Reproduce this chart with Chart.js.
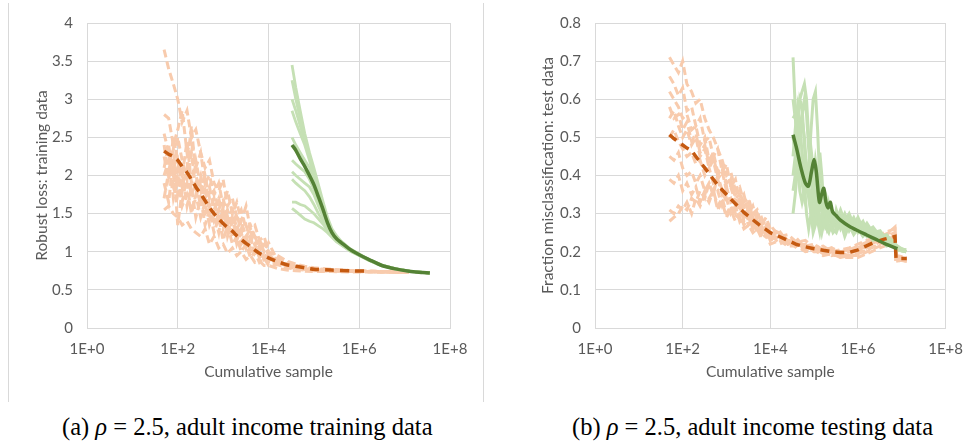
<!DOCTYPE html>
<html>
<head>
<meta charset="utf-8">
<script src="https://cdn.jsdelivr.net/npm/chart.js@4/dist/chart.umd.min.js"></script>
<style>
  html, body { margin: 0; padding: 0; background: #ffffff; }
  body { width: 975px; height: 444px; position: relative; overflow: hidden; }
  canvas { position: absolute; top: 0; }
  #cL { left: 0; }
  #cR { left: 490px; }
  .frame { position: absolute; top: 3px; width: 1px; height: 399px; background: #D9D9D9; }
  .cap { position: absolute; top: 413px; font-family: "Liberation Serif", "DejaVu Serif", serif; font-size: 24.5px; line-height: 28px; color: #000; white-space: nowrap; }
  .cap i { font-style: italic; }
</style>
</head>
<body>
<div class="frame" style="left:8px"></div>
<div class="frame" style="left:483px"></div>
<canvas id="cL" width="485" height="400"></canvas>
<canvas id="cR" width="485" height="400"></canvas>
<div class="cap" id="capA" style="left:62px">(a) <i>ρ</i> = 2.5, adult income training data</div>
<div class="cap" id="capB" style="left:572px">(b) <i>ρ</i> = 2.5, adult income testing data</div>
<script>
// ---------- axis ticks ----------
const xTicks = [1, 100, 10000, 1000000, 100000000];
const xTickLabels = ["1E+0", "1E+2", "1E+4", "1E+6", "1E+8"];

// ---------- (a) training data: robust loss ----------
const trainOrangeX = [50, 63, 80, 100, 125, 160, 200, 250, 320, 400, 500, 630, 800, 1000, 1250, 1600, 2000, 2500, 3200, 4000, 5000, 6300, 8000, 10000, 16000, 25000, 40000, 63000, 100000, 250000, 630000, 1600000, 4000000, 12500000];
const trainOrangeMean = [2.32, 2.28, 2.25, 2.20, 2.12, 2.04, 1.95, 1.85, 1.76, 1.67, 1.58, 1.50, 1.43, 1.37, 1.32, 1.27, 1.21, 1.16, 1.11, 1.07, 1.02, 0.98, 0.95, 0.92, 0.87, 0.83, 0.81, 0.79, 0.77, 0.76, 0.75, 0.745, null, null];
const trainOrangeRun1 = [3.65, 3.4, 3.2, 3.0, 2.7, 2.85, 2.5, 2.6, 2.3, 2.1, 2.2, 1.9, 1.8, 1.95, 1.6, 1.7, 1.45, 1.55, 1.3, 1.35, 1.2, 1.15, 1.05, 1.0, 0.92, 0.86, 0.83, 0.8, 0.78, 0.76, 0.75, 0.745, 0.74, 0.735];
const trainOrangeRun2 = [2.8, 2.75, 2.4, 2.6, 2.85, 2.3, 2.5, 2.1, 2.3, 1.9, 2.0, 1.75, 1.9, 1.6, 1.8, 1.5, 1.65, 1.4, 1.6, 1.3, 1.35, 1.15, 1.2, 1.0, 0.95, 0.88, 0.84, 0.81, 0.79, 0.77, 0.755, 0.745, 0.74, 0.735];
const trainOrangeRun3 = [1.55, 1.6, 1.5, 1.45, 1.35, 1.4, 1.3, 1.25, 1.2, 1.3, 1.1, 1.2, 1.05, 1.1, 0.98, 1.05, 0.95, 1.0, 0.9, 0.95, 0.86, 0.88, 0.82, 0.82, 0.78, 0.76, 0.75, 0.745, 0.74, 0.74, 0.735, 0.735, 0.73, 0.73];
const trainOrangeRun4 = [2.1, 2.4, 2.0, 2.5, 2.2, 1.95, 2.3, 1.8, 2.0, 1.7, 1.85, 1.55, 1.7, 1.45, 1.55, 1.35, 1.5, 1.25, 1.35, 1.15, 1.2, 1.05, 1.1, 0.95, 0.9, 0.84, 0.82, 0.8, 0.78, 0.76, 0.75, 0.745, 0.74, 0.735];
const trainOrangeRun5 = [1.9, 1.65, 2.2, 1.35, 1.8, 1.9, 1.5, 1.75, 1.45, 1.65, 1.35, 1.5, 1.25, 1.6, 1.2, 1.4, 1.1, 1.25, 1.05, 1.15, 0.95, 1.05, 0.9, 0.92, 0.85, 0.82, 0.79, 0.77, 0.76, 0.75, 0.745, 0.74, 0.735, 0.73];
const trainOrangeRun6 = [2.4, 2.0, 2.5, 2.2, 2.0, 2.45, 1.9, 2.2, 1.85, 2.0, 1.7, 1.8, 1.55, 1.7, 1.45, 1.55, 1.3, 1.4, 1.2, 1.3, 1.1, 1.15, 1.0, 1.12, 0.88, 0.85, 0.81, 0.8, 0.77, 0.76, 0.75, 0.745, 0.74, 0.735];
const trainOrangeRun7 = [2.0, 2.2, 1.7, 1.95, 1.6, 1.75, 1.55, 1.7, 1.95, 1.5, 1.6, 1.4, 1.55, 1.3, 1.45, 1.2, 1.35, 1.1, 1.2, 1.0, 1.1, 0.92, 0.98, 0.88, 0.86, 0.82, 0.8, 0.78, 0.77, 0.755, 0.75, 0.74, 0.74, 0.735];
const trainOrangeRun8 = [2.55, 2.3, 2.05, 2.2, 1.85, 2.1, 2.65, 2.0, 1.8, 1.95, 1.6, 1.65, 1.45, 1.5, 1.35, 1.25, 1.3, 1.15, 1.2, 1.05, 1.0, 0.98, 0.9, 0.87, 0.83, 0.8, 0.78, 0.77, 0.76, 0.75, 0.745, 0.74, 0.735, 0.73];
const trainOrangeRun9 = [2.25, 1.95, 2.35, 1.75, 2.05, 1.6, 1.85, 1.45, 1.7, 1.35, 1.55, 1.25, 1.45, 1.15, 1.35, 1.1, 1.2, 1.0, 1.1, 0.92, 1.0, 0.86, 0.92, 0.82, 0.84, 0.79, 0.77, 0.76, 0.75, 0.745, 0.74, 0.735, 0.735, 0.73];
const trainOrangeRun10 = [1.7, 2.05, 1.85, 2.1, 1.65, 2.0, 1.75, 1.9, 1.6, 1.8, 1.5, 1.7, 1.35, 1.55, 1.25, 1.45, 1.15, 1.3, 1.05, 1.2, 0.98, 1.08, 0.9, 0.96, 0.86, 0.82, 0.8, 0.78, 0.765, 0.755, 0.745, 0.74, 0.735, 0.73];

const trainGreenX = [33000, 40000, 50000, 63000, 80000, 100000, 126000, 160000, 200000, 250000, 316000, 400000, 630000, 1000000, 1600000, 3160000, 6300000, 12600000, 25000000, 36000000];
const trainGreenMean = [2.40, 2.33, 2.22, 2.12, 2.00, 1.88, 1.72, 1.55, 1.38, 1.25, 1.17, 1.12, 1.03, 0.96, 0.90, 0.82, 0.775, 0.745, 0.728, 0.72];
const trainGreenRun1 = [3.45, 3.15, 2.85, 2.55, 2.3, 2.1, 1.88, 1.65, 1.45, 1.3, 1.21, 1.14, 1.04, 0.97, 0.9, 0.825, 0.775, 0.745, 0.73, 0.72];
const trainGreenRun2 = [3.25, 3.0, 2.75, 2.5, 2.25, 2.05, 1.82, 1.6, 1.42, 1.28, 1.19, 1.13, 1.03, 0.965, 0.9, 0.82, 0.775, 0.745, 0.73, 0.72];
const trainGreenRun3 = [3.0, 2.85, 2.65, 2.45, 2.25, 2.0, 1.78, 1.56, 1.4, 1.27, 1.18, 1.12, 1.03, 0.96, 0.9, 0.82, 0.775, 0.745, 0.73, 0.72];
const trainGreenRun4 = [2.85, 2.7, 2.55, 2.4, 2.2, 1.98, 1.74, 1.54, 1.38, 1.26, 1.17, 1.12, 1.03, 0.96, 0.9, 0.82, 0.775, 0.745, 0.73, 0.72];
const trainGreenRun5 = [2.5, 2.4, 2.3, 2.2, 2.1, 1.92, 1.72, 1.53, 1.37, 1.25, 1.17, 1.11, 1.02, 0.96, 0.9, 0.82, 0.775, 0.745, 0.73, 0.72];
const trainGreenRun6 = [2.2, 2.15, 2.1, 2.05, 1.95, 1.82, 1.64, 1.48, 1.35, 1.24, 1.16, 1.11, 1.02, 0.955, 0.895, 0.82, 0.775, 0.745, 0.73, 0.72];
const trainGreenRun7 = [2.05, 2.0, 1.95, 1.9, 1.85, 1.75, 1.6, 1.46, 1.33, 1.23, 1.16, 1.1, 1.02, 0.955, 0.895, 0.82, 0.775, 0.745, 0.73, 0.72];
const trainGreenRun8 = [1.95, 1.9, 1.85, 1.8, 1.72, 1.62, 1.5, 1.4, 1.3, 1.22, 1.15, 1.1, 1.02, 0.955, 0.895, 0.82, 0.775, 0.745, 0.73, 0.72];
const trainGreenRun9 = [1.65, 1.65, 1.62, 1.6, 1.55, 1.5, 1.43, 1.36, 1.28, 1.21, 1.14, 1.09, 1.01, 0.95, 0.89, 0.815, 0.775, 0.745, 0.73, 0.72];
const trainGreenRun10 = [1.57, 1.53, 1.48, 1.43, 1.4, 1.38, 1.34, 1.3, 1.25, 1.19, 1.13, 1.09, 1.01, 0.95, 0.89, 0.815, 0.775, 0.745, 0.73, 0.72];

// ---------- (b) testing data: fraction misclassification ----------
const testOrangeX = [50, 63, 80, 100, 125, 160, 200, 250, 320, 400, 500, 630, 800, 1000, 1250, 1600, 2000, 2500, 3200, 4000, 5000, 6300, 8000, 10000, 16000, 25000, 40000, 63000, 100000, 160000, 250000, 400000, 630000, 1000000, 1600000, 2500000, 4000000, 7000000, 7400000, 13000000];
const testOrangeMean = [0.507, 0.497, 0.488, 0.48, 0.472, 0.465, 0.45, 0.435, 0.42, 0.405, 0.39, 0.375, 0.362, 0.35, 0.338, 0.326, 0.315, 0.303, 0.293, 0.284, 0.275, 0.266, 0.258, 0.25, 0.24, 0.23, 0.219, 0.213, 0.208, 0.204, 0.2, 0.198, 0.198, 0.205, 0.216, 0.226, 0.233, 0.24, 0.182, 0.182];
const testOrangeRun1 = [0.71, 0.69, 0.67, 0.70, 0.64, 0.62, 0.59, 0.60, 0.55, 0.52, 0.50, 0.47, 0.44, 0.40, 0.41, 0.36, 0.37, 0.33, 0.34, 0.30, 0.31, 0.27, 0.29, 0.26, 0.25, 0.23, 0.225, 0.215, 0.22, 0.205, 0.21, 0.2, 0.205, 0.215, 0.225, 0.235, 0.245, 0.255, 0.19, 0.185];
const testOrangeRun2 = [0.66, 0.64, 0.61, 0.63, 0.57, 0.58, 0.53, 0.55, 0.49, 0.50, 0.45, 0.47, 0.41, 0.43, 0.37, 0.39, 0.33, 0.35, 0.30, 0.32, 0.28, 0.29, 0.26, 0.27, 0.24, 0.245, 0.225, 0.23, 0.21, 0.215, 0.2, 0.205, 0.21, 0.22, 0.23, 0.24, 0.25, 0.26, 0.18, 0.18];
const testOrangeRun3 = [0.62, 0.60, 0.58, 0.55, 0.56, 0.52, 0.53, 0.48, 0.50, 0.44, 0.46, 0.41, 0.42, 0.37, 0.39, 0.34, 0.35, 0.31, 0.32, 0.28, 0.30, 0.26, 0.27, 0.24, 0.255, 0.225, 0.235, 0.21, 0.22, 0.2, 0.21, 0.195, 0.205, 0.21, 0.225, 0.23, 0.24, 0.25, 0.175, 0.18];
const testOrangeRun4 = [0.55, 0.57, 0.53, 0.50, 0.52, 0.48, 0.50, 0.45, 0.47, 0.42, 0.44, 0.39, 0.41, 0.36, 0.37, 0.33, 0.34, 0.30, 0.31, 0.27, 0.29, 0.25, 0.27, 0.23, 0.245, 0.22, 0.23, 0.205, 0.215, 0.195, 0.205, 0.19, 0.2, 0.205, 0.215, 0.225, 0.235, 0.245, 0.18, 0.175];
const testOrangeRun5 = [0.50, 0.52, 0.49, 0.47, 0.45, 0.46, 0.43, 0.44, 0.40, 0.42, 0.38, 0.39, 0.35, 0.37, 0.33, 0.34, 0.31, 0.32, 0.28, 0.29, 0.26, 0.27, 0.245, 0.25, 0.23, 0.235, 0.215, 0.22, 0.2, 0.205, 0.19, 0.195, 0.19, 0.2, 0.21, 0.22, 0.23, 0.24, 0.18, 0.18];
const testOrangeRun6 = [0.45, 0.44, 0.46, 0.42, 0.40, 0.41, 0.38, 0.40, 0.36, 0.38, 0.35, 0.36, 0.32, 0.34, 0.30, 0.32, 0.28, 0.30, 0.27, 0.28, 0.25, 0.265, 0.24, 0.25, 0.22, 0.23, 0.21, 0.215, 0.2, 0.2, 0.19, 0.19, 0.185, 0.195, 0.205, 0.215, 0.225, 0.235, 0.185, 0.18];
const testOrangeRun7 = [0.39, 0.38, 0.40, 0.36, 0.38, 0.35, 0.37, 0.33, 0.36, 0.34, 0.36, 0.32, 0.34, 0.30, 0.32, 0.29, 0.30, 0.27, 0.29, 0.26, 0.27, 0.24, 0.26, 0.23, 0.24, 0.22, 0.225, 0.21, 0.21, 0.195, 0.2, 0.185, 0.19, 0.19, 0.2, 0.21, 0.22, 0.23, 0.18, 0.175];
const testOrangeRun8 = [0.31, 0.30, 0.32, 0.31, 0.33, 0.30, 0.34, 0.32, 0.35, 0.33, 0.36, 0.31, 0.33, 0.29, 0.31, 0.28, 0.29, 0.26, 0.27, 0.25, 0.26, 0.235, 0.245, 0.22, 0.23, 0.215, 0.215, 0.2, 0.205, 0.19, 0.195, 0.185, 0.185, 0.185, 0.195, 0.205, 0.215, 0.225, 0.175, 0.18];
const testOrangeRun9 = [0.28, 0.29, 0.30, 0.32, 0.31, 0.34, 0.33, 0.36, 0.34, 0.38, 0.35, 0.40, 0.36, 0.33, 0.34, 0.30, 0.32, 0.28, 0.30, 0.26, 0.28, 0.245, 0.26, 0.235, 0.24, 0.22, 0.22, 0.205, 0.21, 0.195, 0.2, 0.19, 0.19, 0.195, 0.205, 0.215, 0.23, 0.24, 0.18, 0.18];
const testOrangeRun10 = [0.58, 0.55, 0.56, 0.52, 0.54, 0.49, 0.51, 0.46, 0.48, 0.43, 0.45, 0.40, 0.42, 0.38, 0.39, 0.35, 0.36, 0.32, 0.33, 0.29, 0.30, 0.27, 0.28, 0.25, 0.25, 0.23, 0.225, 0.21, 0.21, 0.2, 0.2, 0.19, 0.195, 0.205, 0.215, 0.23, 0.24, 0.265, 0.19, 0.18];

const testGreenX = [33000, 37000, 42000, 47000, 53000, 60000, 67000, 75000, 85000, 95000, 107000, 120000, 135000, 150000, 170000, 190000, 215000, 240000, 270000, 320000, 400000, 500000, 630000, 800000, 1000000, 1300000, 1600000, 2200000, 3200000, 4500000, 6300000, 8000000, 12600000];
const testGreenRun1 = [0.71, 0.58, 0.45, 0.36, 0.33, 0.36, 0.42, 0.38, 0.33, 0.30, 0.34, 0.31, 0.28, 0.30, 0.27, 0.29, 0.26, 0.27, 0.25, 0.26, 0.29, 0.255, 0.28, 0.25, 0.27, 0.245, 0.26, 0.235, 0.245, 0.22, 0.225, 0.205, 0.2];
const testGreenRun2 = [0.55, 0.56, 0.58, 0.6, 0.62, 0.64, 0.6, 0.5, 0.4, 0.35, 0.39, 0.35, 0.31, 0.33, 0.3, 0.31, 0.28, 0.29, 0.27, 0.3, 0.27, 0.295, 0.265, 0.285, 0.255, 0.275, 0.245, 0.26, 0.23, 0.24, 0.215, 0.21, 0.2];
const testGreenRun3 = [0.40, 0.45, 0.52, 0.6, 0.58, 0.48, 0.38, 0.42, 0.52, 0.6, 0.62, 0.52, 0.38, 0.32, 0.34, 0.30, 0.28, 0.3, 0.27, 0.27, 0.3, 0.27, 0.29, 0.26, 0.28, 0.25, 0.265, 0.24, 0.25, 0.225, 0.225, 0.21, 0.205];
const testGreenRun4 = [0.30, 0.35, 0.42, 0.5, 0.55, 0.5, 0.42, 0.36, 0.3, 0.27, 0.3, 0.36, 0.46, 0.40, 0.3, 0.27, 0.32, 0.28, 0.26, 0.25, 0.28, 0.24, 0.27, 0.245, 0.26, 0.24, 0.25, 0.23, 0.235, 0.215, 0.22, 0.205, 0.2];
const testGreenRun5 = [0.5, 0.46, 0.42, 0.4, 0.42, 0.45, 0.4, 0.34, 0.3, 0.25, 0.27, 0.32, 0.28, 0.25, 0.28, 0.26, 0.25, 0.27, 0.26, 0.31, 0.275, 0.3, 0.27, 0.29, 0.265, 0.28, 0.255, 0.265, 0.24, 0.245, 0.225, 0.215, 0.2];
const testGreenRun6 = [0.45, 0.52, 0.58, 0.54, 0.46, 0.38, 0.3, 0.26, 0.3, 0.38, 0.44, 0.4, 0.34, 0.36, 0.32, 0.34, 0.3, 0.31, 0.29, 0.28, 0.31, 0.28, 0.3, 0.27, 0.29, 0.26, 0.275, 0.25, 0.255, 0.23, 0.23, 0.21, 0.205];
const testGreenRun7 = [0.36, 0.4, 0.46, 0.52, 0.56, 0.6, 0.56, 0.47, 0.4, 0.35, 0.32, 0.28, 0.25, 0.28, 0.32, 0.29, 0.27, 0.26, 0.28, 0.29, 0.26, 0.285, 0.255, 0.275, 0.25, 0.265, 0.24, 0.25, 0.23, 0.235, 0.215, 0.21, 0.2];
const testGreenRun8 = [0.6, 0.55, 0.5, 0.44, 0.38, 0.34, 0.37, 0.43, 0.47, 0.42, 0.36, 0.3, 0.34, 0.31, 0.28, 0.3, 0.29, 0.28, 0.285, 0.26, 0.29, 0.26, 0.28, 0.255, 0.27, 0.25, 0.26, 0.24, 0.245, 0.225, 0.22, 0.205, 0.2];
const testGreenMeanX = [33000, 40000, 50000, 63000, 74000, 87000, 100000, 112000, 132000, 148000, 166000, 186000, 209000, 234000, 263000, 316000, 398000, 631000, 1000000, 1585000, 2512000, 3981000, 7943000];
const testGreenMean = [0.507, 0.47, 0.42, 0.38, 0.372, 0.41, 0.442, 0.41, 0.33, 0.35, 0.366, 0.33, 0.315, 0.33, 0.305, 0.295, 0.283, 0.267, 0.255, 0.244, 0.233, 0.222, 0.208];

// ---------- styles ----------
const ORANGE_LIGHT = '#F8CBAD';
const ORANGE_DARK = '#C55A11';
const GREEN_LIGHT = '#C5E0B4';
const GREEN_DARK = '#548235';
const TEXT = '#595959';
const GRID = '#D9D9D9';
const FONT = 'Lato, "Open Sans", sans-serif';

function pts(xs, ys) {
  return xs.map((x, i) => ({ x: x, y: ys[i] }));
}
function runSets(xs, runs, color, width, dash, order) {
  return runs.map(r => ({
    data: pts(xs, r), borderColor: color, borderWidth: width, borderDash: dash,
    pointRadius: 0, tension: 0, order: order, spanGaps: false, fill: false
  }));
}
function meanSet(xs, ys, color, width, dash, order, tension) {
  return { data: pts(xs, ys), borderColor: color, borderWidth: width, borderDash: dash,
    pointRadius: 0, tension: tension, order: order, fill: false, borderCapStyle: 'butt' };
}

function makeChart(id, datasets, yMax, yStep, yTitle, yWidth, yTitlePad, padTop, padRight) {
  return new Chart(document.getElementById(id), {
    type: 'line',
    data: { datasets: datasets },
    options: {
      responsive: false, animation: false,
      layout: { padding: { top: padTop, right: padRight, left: 0, bottom: 0 } },
      plugins: { legend: { display: false }, tooltip: { enabled: false } },
      scales: {
        x: {
          type: 'logarithmic', min: 1, max: 100000000,
          afterBuildTicks: s => { s.ticks = xTicks.map(v => ({ value: v })); },
          afterFit: s => { s.height = 72; },
          ticks: { callback: (v, i) => xTickLabels[i], color: TEXT, font: { family: FONT, size: 15 }, padding: 12, maxRotation: 0, autoSkip: false },
          grid: { color: GRID, drawTicks: false, lineWidth: 1 },
          border: { color: GRID },
          title: { display: true, text: 'Cumulative sample', color: TEXT, font: { family: FONT, size: 15.5 }, padding: { top: 0, bottom: 19 } }
        },
        y: {
          min: 0, max: yMax,
          afterFit: s => { s.width = yWidth; },
          ticks: { stepSize: yStep, color: TEXT, font: { family: FONT, size: 15 }, padding: 14,
                   callback: v => String(Math.round(v * 10) / 10) },
          grid: { color: GRID, drawTicks: false, lineWidth: 1 },
          border: { color: GRID },
          title: { display: true, text: yTitle, color: TEXT, font: { family: FONT, size: 15.5 }, padding: { top: yTitlePad, bottom: 0 } }
        }
      }
    }
  });
}

const leftSets = [
  meanSet(trainGreenX, trainGreenMean, GREEN_DARK, 3.5, [], 0, 0.3),
  meanSet(trainOrangeX, trainOrangeMean, ORANGE_DARK, 3.5, [9, 6], 1, 0.2),
  ...runSets(trainGreenX, [trainGreenRun1, trainGreenRun2, trainGreenRun3, trainGreenRun4, trainGreenRun5, trainGreenRun6, trainGreenRun7, trainGreenRun8, trainGreenRun9, trainGreenRun10], GREEN_LIGHT, 2.8, [], 2),
  ...runSets(trainOrangeX, [trainOrangeRun1, trainOrangeRun2, trainOrangeRun3, trainOrangeRun4, trainOrangeRun5, trainOrangeRun6, trainOrangeRun7, trainOrangeRun8, trainOrangeRun9, trainOrangeRun10], ORANGE_LIGHT, 3, [8, 4], 3)
];
const rightSets = [
  meanSet(testGreenMeanX, testGreenMean, GREEN_DARK, 3.5, [], 0, 0.3),
  meanSet(testOrangeX, testOrangeMean, ORANGE_DARK, 3.5, [9, 6], 1, 0),
  ...runSets(testGreenX, [testGreenRun1, testGreenRun2, testGreenRun3, testGreenRun4, testGreenRun5, testGreenRun6, testGreenRun7, testGreenRun8], GREEN_LIGHT, 3, [], 2),
  ...runSets(testOrangeX, [testOrangeRun1, testOrangeRun2, testOrangeRun3, testOrangeRun4, testOrangeRun5, testOrangeRun6, testOrangeRun7, testOrangeRun8, testOrangeRun9, testOrangeRun10], ORANGE_LIGHT, 3, [8, 4], 3)
];

makeChart('cL', leftSets, 4, 0.5, 'Robust loss: training data', 87, 33, 21, 35);
makeChart('cR', rightSets, 0.8, 0.1, 'Fraction misclassification: test data', 105, 49, 23, 17);
</script>
</body>
</html>
